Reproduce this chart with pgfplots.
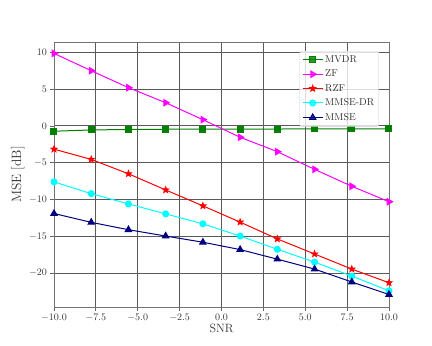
\documentclass[border=0pt]{standalone}
\usepackage{pgfplots}
\pgfplotsset{compat=1.18}
\usetikzlibrary{plotmarks}

\definecolor{cMVDR}{RGB}{0,128,0}
\definecolor{cZF}{RGB}{255,0,255}
\definecolor{cRZF}{RGB}{255,0,0}
\definecolor{cDR}{RGB}{0,255,255}
\definecolor{cMMSE}{RGB}{0,0,128}

% filled five-pointed star
\pgfdeclareplotmark{fstar}{%
  \pgfpathmoveto{\pgfpointpolar{90}{\pgfplotmarksize}}%
  \pgfpathlineto{\pgfpointpolar{126}{0.42\pgfplotmarksize}}%
  \pgfpathlineto{\pgfpointpolar{162}{\pgfplotmarksize}}%
  \pgfpathlineto{\pgfpointpolar{198}{0.42\pgfplotmarksize}}%
  \pgfpathlineto{\pgfpointpolar{234}{\pgfplotmarksize}}%
  \pgfpathlineto{\pgfpointpolar{270}{0.42\pgfplotmarksize}}%
  \pgfpathlineto{\pgfpointpolar{306}{\pgfplotmarksize}}%
  \pgfpathlineto{\pgfpointpolar{342}{0.42\pgfplotmarksize}}%
  \pgfpathlineto{\pgfpointpolar{18}{\pgfplotmarksize}}%
  \pgfpathlineto{\pgfpointpolar{54}{0.42\pgfplotmarksize}}%
  \pgfpathclose
  \pgfusepathqfillstroke}

\begin{document}
\begin{tikzpicture}
  \path[use as bounding box] (0,0) rectangle (432pt,346pt);
  \begin{axis}[
    at={(54pt,39pt)}, anchor=south west,
    scale only axis,
    width=335pt, height=265pt,
    xmin=-10, xmax=10,
    ymin=-24.6, ymax=11.4,
    xtick={-10,-7.5,-5,-2.5,0,2.5,5,7.5,10},
    xticklabels={$-10.0$,$-7.5$,$-5.0$,$-2.5$,$0.0$,$2.5$,$5.0$,$7.5$,$10.0$},
    ytick={-20,-15,-10,-5,0,5,10},
    tick align=outside, tick pos=left,
    major tick length=3.5pt,
    tick style={black!60, line width=0.8pt},
    tick label style={font=\fontsize{10}{12}\selectfont, text=black!80},
    axis line style={black!55, line width=0.8pt},
    grid=major,
    grid style={black!65, line width=0.9pt},
    xlabel={SNR},
    ylabel={MSE [dB]},
    xlabel style={font=\fontsize{12}{14}\selectfont, text=black!80,
      at={(axis description cs:0.5,-0.079)}, anchor=center},
    ylabel style={font=\fontsize{13.5}{16}\selectfont, text=black!80,
      at={(axis description cs:-0.108,0.5)}, anchor=center},
    every axis plot/.append style={line width=1pt},
    legend cell align=left,
    legend image code/.code={%
      \draw[mark repeat=2, mark phase=2] plot coordinates {(0pt,0pt) (10pt,0pt) (20pt,0pt)};},
    legend style={at={(axis description cs:0.970,0.966)}, anchor=north east,
      draw=black!20, rounded corners=2pt, fill=white, fill opacity=0.8,
      text opacity=1, font=\fontsize{10}{11}\selectfont, text=black!80,
      row sep=2pt, inner sep=2.5pt},
  ]
    \addplot[color=cMVDR, mark=square*, mark size=3pt] coordinates {
      (-10,-0.72) (-7.778,-0.55) (-5.556,-0.48) (-3.333,-0.45) (-1.111,-0.43)
      (1.111,-0.42) (3.333,-0.42) (5.556,-0.41) (7.778,-0.41) (10,-0.41)};
    \addlegendentry{MVDR}
    \addplot[color=cZF, mark=triangle*, mark size=3.6pt, mark options={rotate=-90}] coordinates {
      (-10,9.85) (-7.778,7.5) (-5.556,5.2) (-3.333,3.15) (-1.111,0.85)
      (1.111,-1.54) (3.333,-3.5) (5.556,-5.9) (7.778,-8.2) (10,-10.3)};
    \addlegendentry{ZF}
    \addplot[color=cRZF, mark=fstar, mark size=3pt] coordinates {
      (-10,-3.16) (-7.778,-4.55) (-5.556,-6.5) (-3.333,-8.7) (-1.111,-10.86)
      (1.111,-13.07) (3.333,-15.35) (5.556,-17.4) (7.778,-19.45) (10,-21.3)};
    \addlegendentry{RZF}
    \addplot[color=cDR, mark=*, mark size=3pt] coordinates {
      (-10,-7.6) (-7.778,-9.2) (-5.556,-10.6) (-3.333,-11.95) (-1.111,-13.3)
      (1.111,-14.96) (3.333,-16.76) (5.556,-18.5) (7.778,-20.4) (10,-22.4)};
    \addlegendentry{MMSE-DR}
    \addplot[color=cMMSE, mark=triangle*, mark size=3.6pt] coordinates {
      (-10,-11.9) (-7.778,-13.1) (-5.556,-14.1) (-3.333,-14.96) (-1.111,-15.8)
      (1.111,-16.8) (3.333,-18.1) (5.556,-19.45) (7.778,-21.2) (10,-22.9)};
    \addlegendentry{MMSE}
  \end{axis}
\end{tikzpicture}
\end{document}
